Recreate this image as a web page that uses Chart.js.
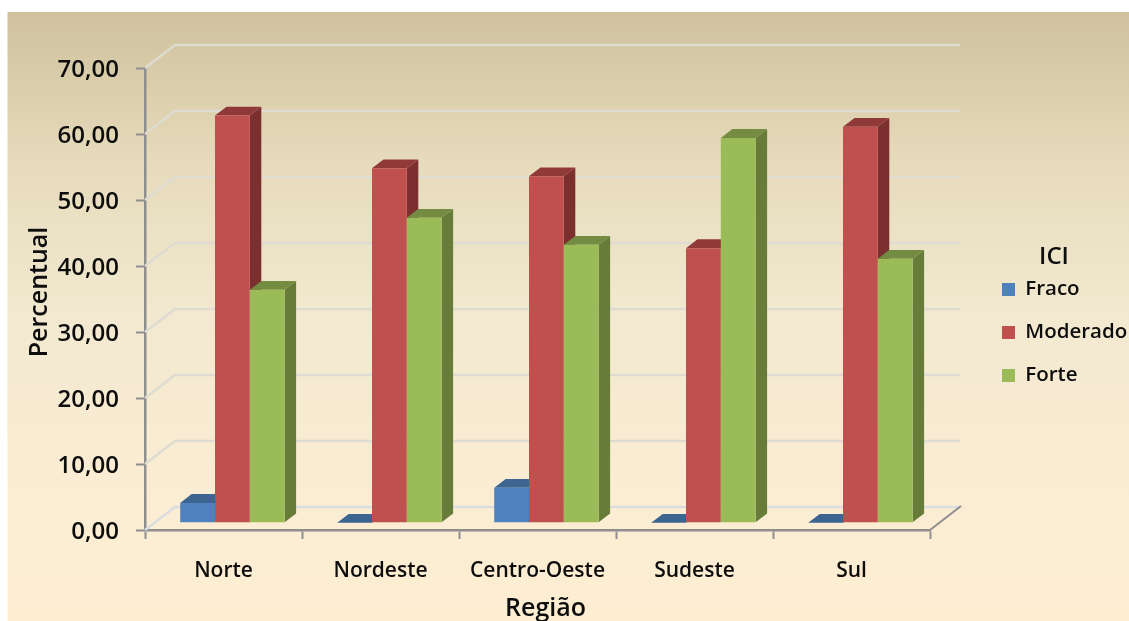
<!DOCTYPE html>
<html><head><meta charset="utf-8">
<style>html,body{margin:0;padding:0;background:#fff}#wrap{width:1129px;height:621px}canvas{display:block}</style>
<script src="https://cdn.jsdelivr.net/npm/chart.js@4"></script></head>
<body><div id="wrap"><canvas id="c" width="1129" height="621"></canvas></div>
<script>
const categories = ["Norte","Nordeste","Centro-Oeste","Sudeste","Sul"];
const fraco = [3.0,0,5.3,0,0];
const moderado = [61.7,53.7,52.5,41.6,60.0];
const forte = [35.3,46.2,42.1,58.3,40.0];
const yTicks = [0,10,20,30,40,50,60,70];
const fmt = v => v.toFixed(2).replace('.',',');
const FONT = '"Open Sans"';
const TXT = '#0d0d0d';
const shades = [
 {front:'#4f81bd',top:'#3c6592',side:'#345a85'},
 {front:'#c0504d',top:'#8f3a38',side:'#7b2f2f'},
 {front:'#9bbb59',top:'#748c42',side:'#667c38'}];
const DX=30,DY=-23,BX=8.9,BY=-7.3,SX=11.5,SY=-8.8;
function nudge(obj,method,dx,dy){
 const d=obj[method];
 obj[method]=function(){const c=this.ctx;c.save();c.translate(dx,dy);d.call(this);c.restore();};
}
const scene = {
 id:'scene',
 beforeLayout(chart){
  const l=chart.legend;
  if(l && !l._wrapped){const f=l.fit;l.fit=function(){f.call(this);this.width=199;};l._wrapped=true;}
 },
 afterLayout(chart){
  const l=chart.legend;
  l.left=979.5;l.right=1129;l.top=245;l.bottom=610;
  if(!chart.$nudged){
   nudge(chart.scales.y,'drawTitle',0,-7);
   nudge(chart.scales.x,'drawTitle',8,3);
   nudge(l,'drawTitle',-25,0);
   chart.$nudged=true;
  }
 },
 beforeDraw(chart){
  const {ctx,width,height}=chart;
  ctx.save();
  ctx.fillStyle='#fff';ctx.fillRect(0,0,width,height);
  const g=ctx.createLinearGradient(0,12,0,621);
  g.addColorStop(0,'#cfc19d');g.addColorStop(0.25,'#e6dbbb');g.addColorStop(0.5,'#f2e9d0');g.addColorStop(0.8,'#fbedd3');g.addColorStop(1,'#fdeed2');
  ctx.fillStyle=g;ctx.fillRect(7.5,12,width-7.5,height-12);
  ctx.restore();
 },
 beforeDatasetsDraw(chart){
  const {ctx,scales:{x,y}}=chart;
  const L=x.left,R=x.right;
  ctx.save();
  ctx.lineWidth=2.5;
  yTicks.forEach(v=>{
   const p=y.getPixelForValue(v);
   ctx.strokeStyle=v===0?'#d9dde0':'#dedbd0';
   ctx.beginPath();ctx.moveTo(L,p);ctx.lineTo(L+DX,p+DY);ctx.lineTo(R+DX,p+DY);ctx.stroke();
  });
  const b=y.getPixelForValue(0);
  ctx.strokeStyle='#8e8e8e';ctx.lineWidth=2;
  ctx.beginPath();ctx.moveTo(R,b);ctx.lineTo(R+DX+1,b+DY-1);ctx.stroke();
  ctx.restore();
 },
 beforeDatasetDraw(){return false;},
 afterDatasetsDraw(chart){
  const {ctx}=chart;
  ctx.save();ctx.translate(BX,BY);
  shades.forEach((s,i)=>{
   const meta=chart.getDatasetMeta(i);
   meta.data.forEach(bar=>{
    const p=bar.getProps(['x','y','base','width'],true);
    const l=p.x-p.width/2,r=p.x+p.width/2;
    ctx.fillStyle=s.side;
    ctx.beginPath();ctx.moveTo(r,p.y);ctx.lineTo(r+SX,p.y+SY);ctx.lineTo(r+SX,p.base+SY);ctx.lineTo(r,p.base);ctx.closePath();ctx.fill();
    ctx.fillStyle=s.top;
    ctx.beginPath();ctx.moveTo(l,p.y);ctx.lineTo(l+SX,p.y+SY);ctx.lineTo(r+SX,p.y+SY);ctx.lineTo(r,p.y);ctx.closePath();ctx.fill();
   });
   meta.controller.draw();
  });
  ctx.restore();
 }
};
new Chart(document.getElementById('c'),{
 type:'bar',
 data:{labels:categories,datasets:[
  {label:'Fraco',data:fraco,backgroundColor:shades[0].front,categoryPercentage:0.665,barPercentage:1},
  {label:'Moderado',data:moderado,backgroundColor:shades[1].front,categoryPercentage:0.665,barPercentage:1},
  {label:'Forte',data:forte,backgroundColor:shades[2].front,categoryPercentage:0.665,barPercentage:1}]},
 plugins:[scene],
 options:{
  responsive:false,animation:false,
  layout:{padding:{top:68,left:0,right:0,bottom:0}},
  plugins:{
   tooltip:{enabled:false},
   legend:{position:'right',align:'start',
    title:{display:true,text:'ICI',color:TXT,font:{family:FONT,size:24,weight:'600'},padding:{top:0,bottom:-17}},
    labels:{boxWidth:13,boxHeight:13,padding:22.5,color:TXT,font:{family:FONT,size:20.5,weight:'600'}}}
  },
  scales:{
   x:{
    afterFit(s){s.height=91;},
    grid:{display:true,drawOnChartArea:false,drawTicks:true,tickLength:9,tickColor:'#8e8e8e',tickWidth:2},
    border:{color:'#8e8e8e',width:2.5},
    ticks:{color:TXT,padding:19,maxRotation:0,autoSkip:false,font:{family:FONT,size:21,weight:'600'}},
    title:{display:true,text:'Região',color:TXT,padding:{top:0,bottom:0},font:{family:FONT,size:25,weight:'600'}}
   },
   y:{
    min:0,max:70,
    afterFit(s){s.width=145;},
    afterBuildTicks(s){s.ticks=yTicks.map(v=>({value:v}));},
    grid:{display:true,drawOnChartArea:false,drawTicks:true,tickLength:9,tickColor:'#8e8e8e',tickWidth:2},
    border:{color:'#8e8e8e',width:2.5},
    ticks:{color:TXT,padding:17,labelOffset:2,callback:v=>fmt(v),font:{family:FONT,size:24,weight:'600'}},
    title:{display:true,text:'Percentual',color:TXT,padding:{top:25,bottom:0},font:{family:FONT,size:25,weight:'600'}}
   }
  }
 }
});
</script></body></html>
